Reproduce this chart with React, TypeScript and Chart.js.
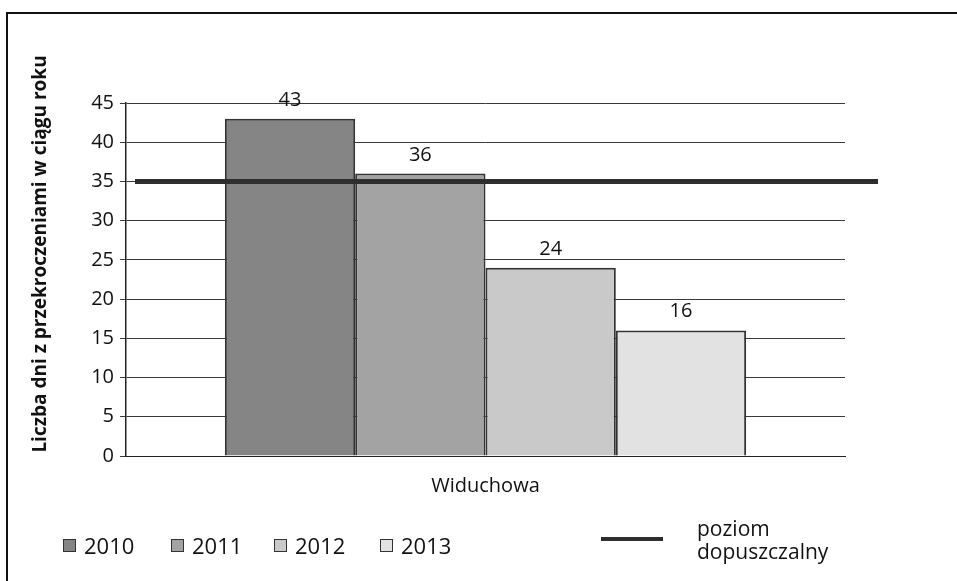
import React, { useEffect, useRef } from "react";
import { Chart, registerables } from "chart.js";

Chart.register(...registerables);

const categories = ["Widuchowa"];
const years = ["2010", "2011", "2012", "2013"];
const values2010 = [43];
const values2011 = [36];
const values2012 = [24];
const values2013 = [16];
const limitValue = 35;
const limitLabel = "poziom dopuszczalny";
const yTicksMax = 45;
const yTicksStep = 5;
const yTitle = "Liczba dni z przekroczeniami w ciągu roku";

const barColors = ["#858585", "#a3a3a3", "#c9c9c9", "#e2e2e2"];
const FONT = "'Open Sans', sans-serif";

const limitLine = {
  id: "limitLine",
  afterDatasetsDraw(chart: any) {
    const { ctx, chartArea, scales } = chart;
    const y = scales.y.getPixelForValue(limitValue);
    ctx.save();
    ctx.strokeStyle = "#2e2e2e";
    ctx.lineWidth = 5;
    ctx.beginPath();
    ctx.moveTo(chartArea.left + 9, y);
    ctx.lineTo(chartArea.right + 33, y);
    ctx.stroke();
    ctx.restore();
  },
};

const valueLabels = {
  id: "valueLabels",
  afterDatasetsDraw(chart: any) {
    const ctx = chart.ctx;
    ctx.save();
    ctx.font = `20px ${FONT}`;
    ctx.fillStyle = "#111";
    ctx.textAlign = "center";
    ctx.textBaseline = "alphabetic";
    chart.data.datasets.forEach((ds: any, i: number) => {
      const meta = chart.getDatasetMeta(i);
      meta.data.forEach((el: any, j: number) => {
        ctx.fillText(String(ds.data[j]), el.x, el.y - 13);
      });
    });
    ctx.restore();
  },
};

const yTitlePlugin = {
  id: "yTitlePlugin",
  afterDraw(chart: any) {
    const ctx = chart.ctx;
    ctx.save();
    ctx.translate(41, 254);
    ctx.rotate(-Math.PI / 2);
    ctx.font = `bold 19px ${FONT}`;
    ctx.fillStyle = "#111";
    ctx.textAlign = "center";
    ctx.textBaseline = "middle";
    ctx.fillText(yTitle, 0, 0);
    ctx.restore();
  },
};

export default function App() {
  const ref = useRef<HTMLCanvasElement>(null);
  useEffect(() => {
    if (!ref.current) return;
    const series = [values2010, values2011, values2012, values2013];
    const chart = new Chart(ref.current, {
      type: "bar",
      data: {
        labels: categories,
        datasets: series.map((vals, i) => ({
          label: years[i],
          data: vals,
          backgroundColor: barColors[i],
          borderColor: "#333",
          borderWidth: { top: 2, left: 2, right: 2, bottom: 0 },
          categoryPercentage: 0.725,
          barPercentage: 1,
        })),
      },
      options: {
        animation: false,
        responsive: false,
        layout: { padding: { left: 28, right: 112, top: 103, bottom: 75 } },
        plugins: { legend: { display: false }, tooltip: { enabled: false } },
        scales: {
          x: {
            type: "category",
            grid: { display: false, drawTicks: false },
            border: { display: true, color: "#222", width: 1 },
            ticks: { font: { family: FONT, size: 20 }, color: "#111", padding: 18 },
            afterFit: (s: any) => {
              s.height = 50;
            },
          },
          y: {
            min: 0,
            max: yTicksMax,
            ticks: {
              stepSize: yTicksStep,
              font: { family: FONT, size: 20 },
              color: "#111",
              padding: 6,
            },
            grid: { color: "#3a3a3a", lineWidth: 1, tickLength: 6 },
            border: { display: true, color: "#222", width: 1.5 },
            title: { display: false },
            afterFit: (s: any) => {
              s.width = 98;
            },
          },
        },
      },
      plugins: [valueLabels, limitLine, yTitlePlugin],
    });
    return () => chart.destroy();
  }, []);

  const legendPos = [63, 171, 274, 380];
  return (
    <div style={{ position: "fixed", left: 0, top: 0, width: 957, height: 581, background: "#fff", fontFamily: FONT, color: "#111" }}>
      <canvas ref={ref} width={957} height={581} style={{ position: "absolute", left: 0, top: 0 }} />
      <div style={{ position: "absolute", left: 6, top: 12, width: 951, height: 569, borderTop: "2px solid #111", borderLeft: "2px solid #111", pointerEvents: "none" }} />
      {years.map((y, i) => (
        <div key={y} style={{ position: "absolute", left: legendPos[i], top: 531, height: 28, display: "flex", alignItems: "center", fontSize: 22 }}>
          <span style={{ display: "inline-block", width: 11, height: 11, background: barColors[i], border: "1px solid #333", marginRight: 8 }} />
          <span>{y}</span>
        </div>
      ))}
      <div style={{ position: "absolute", left: 601, top: 537, width: 62, height: 4, background: "#2e2e2e" }} />
      <div style={{ position: "absolute", left: 697, top: 517, fontSize: 21, lineHeight: "23px" }}>
        {limitLabel.split(" ")[0]}<br />{limitLabel.split(" ")[1]}
      </div>
    </div>
  );
}
